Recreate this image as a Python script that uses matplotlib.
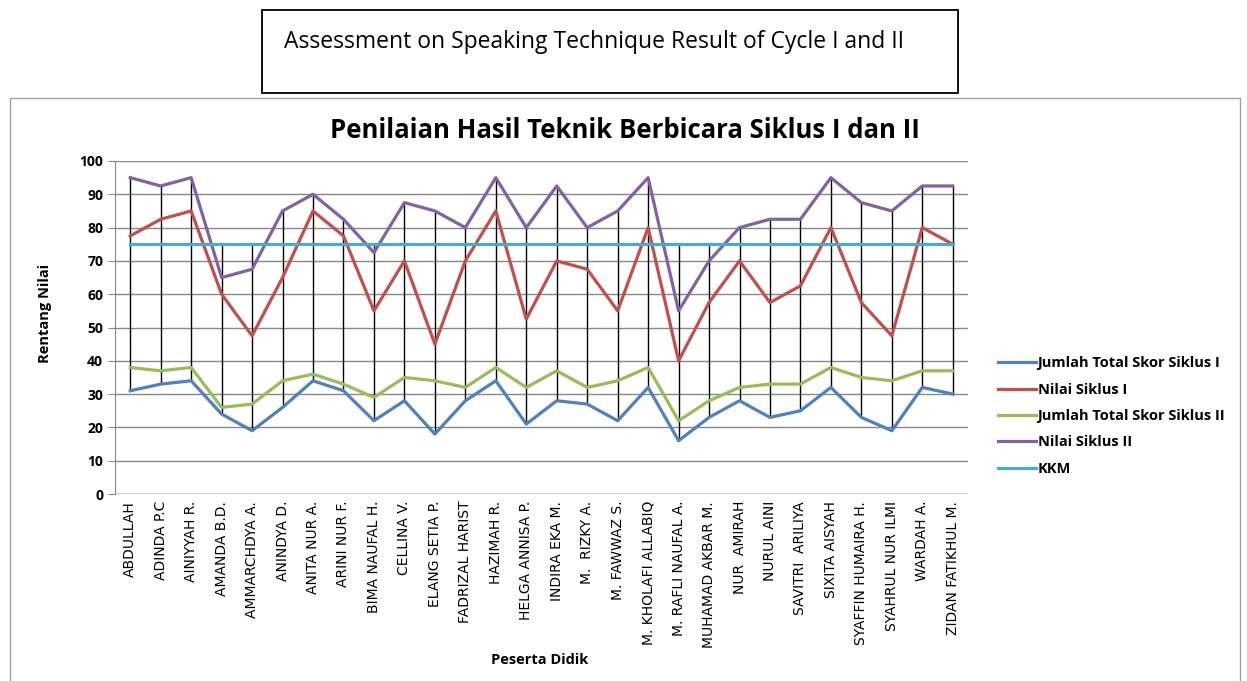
import numpy as np
import matplotlib
matplotlib.use("Agg")
import matplotlib.pyplot as plt
from matplotlib.patches import Rectangle

names = ["ABDULLAH", "ADINDA P.C", "AINIYYAH R.", "AMANDA B.D.", "AMMARCHDYA A.",
         "ANINDYA D.", "ANITA NUR A.", "ARINI NUR F.", "BIMA NAUFAL H.", "CELLINA V.",
         "ELANG SETIA P.", "FADRIZAL HARIST", "HAZIMAH R.", "HELGA ANNISA P.",
         "INDIRA EKA M.", "M.  RIZKY A.", "M. FAWWAZ S.", "M. KHOLAFI ALLABIQ",
         "M. RAFLI NAUFAL A.", "MUHAMAD AKBAR M.", "NUR  AMIRAH", "NURUL AINI",
         "SAVITRI  ARILIYA", "SIXITA AISYAH", "SYAFFIN HUMAIRA H.", "SYAHRUL NUR ILMI",
         "WARDAH A.", "ZIDAN FATIKHUL M."]

skor1 = [31, 33, 34, 24, 19, 26, 34, 31, 22, 28, 18, 28, 34, 21,
         28, 27, 22, 32, 16, 23, 28, 23, 25, 32, 23, 19, 32, 30]
nilai1 = [77.5, 82.5, 85, 60, 47.5, 65, 85, 77.5, 55, 70, 45, 70, 85, 52.5,
          70, 67.5, 55, 80, 40, 57.5, 70, 57.5, 62.5, 80, 57.5, 47.5, 80, 75]
skor2 = [38, 37, 38, 26, 27, 34, 36, 33, 29, 35, 34, 32, 38, 32,
         37, 32, 34, 38, 22, 28, 32, 33, 33, 38, 35, 34, 37, 37]
nilai2 = [95, 92.5, 95, 65, 67.5, 85, 90, 82.5, 72.5, 87.5, 85, 80, 95, 80,
          92.5, 80, 85, 95, 55, 70, 80, 82.5, 82.5, 95, 87.5, 85, 92.5, 92.5]
kkm = [75] * len(names)

series = [
    ("Jumlah Total Skor Siklus I", skor1, "#4F81BD"),
    ("Nilai Siklus I", nilai1, "#C0504D"),
    ("Jumlah Total Skor Siklus II", skor2, "#9BBB59"),
    ("Nilai Siklus II", nilai2, "#8064A2"),
    ("KKM", kkm, "#4BACC6"),
]

fig = plt.figure(figsize=(12.47, 6.81), dpi=100)
fig.patch.set_facecolor("white")

# boxes
fig.patches.append(Rectangle((262 / 1247, 1 - 93 / 681), 696 / 1247, 83 / 681,
                             transform=fig.transFigure, fill=False,
                             edgecolor="black", lw=1.3))
fig.patches.append(Rectangle((10 / 1247, -0.01), 1230 / 1247, (681 - 98) / 681 + 0.01,
                             transform=fig.transFigure, fill=False,
                             edgecolor="#A0A0A0", lw=1))
fig.text(284 / 1247, 1 - 42 / 681, "Assessment on Speaking Technique Result of Cycle I and II",
         fontsize=16.5, family="Open Sans", va="center", ha="left")
fig.text(625 / 1247, 1 - 130 / 681, "Penilaian Hasil Teknik Berbicara Siklus I dan II",
         fontsize=18.5, family="Open Sans", weight="bold", va="center", ha="center")

ax = fig.add_axes([115 / 1247, 1 - 494 / 681, 853 / 1247, 333 / 681])
x = np.arange(len(names))

allv = np.array([s[1] for s in series])
ax.vlines(x, allv.min(axis=0), allv.max(axis=0), color="black", lw=1, zorder=2)
for lab, vals, col in series:
    ax.plot(x, vals, color=col, lw=2.3, label=lab, zorder=3)

ax.set_xlim(-0.5, len(names) - 0.5)
ax.set_ylim(0, 100)
ax.set_yticks(range(0, 101, 10))
ax.yaxis.grid(True, color="#888888", lw=1)
ax.set_axisbelow(True)
for s in ["top", "right", "bottom"]:
    ax.spines[s].set_visible(False)
ax.spines["left"].set_color("#888888")
ax.axhline(0, color="#888888", lw=1, zorder=1)
ax.tick_params(axis="y", length=5, color="#888888", labelsize=10)
for t in ax.get_yticklabels():
    t.set_fontweight("bold")
    t.set_family("Open Sans")
ax.set_xticks(x)
ax.set_xticklabels(names, rotation=90, fontsize=10, family="Liberation Sans Narrow")
ax.tick_params(axis="x", length=0, pad=5)

fig.text(45 / 1247, 1 - 313 / 681, "Rentang Nilai", rotation=90, fontsize=10.5,
         family="Open Sans", weight="bold", va="center", ha="center")
fig.text(540 / 1247, 1 - 660 / 681, "Peserta Didik", fontsize=10.5,
         family="Open Sans", weight="bold", va="center", ha="center")

leg = ax.legend(loc="center left", bbox_to_anchor=(985 / 1247, 1 - 416 / 681),
                bbox_transform=fig.transFigure, frameon=False, handlelength=2.6,
                handletextpad=0.1, labelspacing=0.85,
                prop={"family": "Open Sans", "weight": "bold", "size": 10.5})

fig.savefig("out.png", dpi=100)
